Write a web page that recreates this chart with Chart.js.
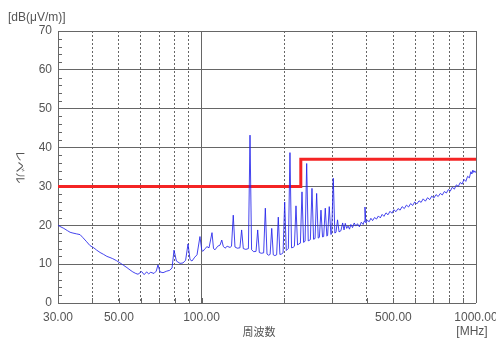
<!DOCTYPE html>
<html lang="ja">
  <head>
    <meta charset="utf-8" />
    <title>放射妨害波 測定結果</title>
    <style>
      * {
        margin: 0;
        padding: 0;
      }
      body {
        background: #fff;
      }
      .chartBox {
        width: 496px;
        height: 338px;
      }
    </style>
  </head>
  <body>
    <div class="chartBox">
      <canvas id="myChart"></canvas>
    </div>

    <script src="https://cdn.jsdelivr.net/npm/chart.js@4.4.0/dist/chart.umd.min.js"></script>

    <script>
      // data block
      const yTicks = [0, 10, 20, 30, 40, 50, 60, 70];
      const xGridFreq = [30, 40, 50, 60, 70, 80, 90, 100, 200, 300, 400, 500, 600, 700, 800, 900, 1000];
      const xSolidFreq = [30, 100, 1000];
      const xLabelFreq = [30, 50, 100, 500, 1000];

      // limit line [MHz, dB(uV/m)]
      const limitLine = [[30, 30], [230, 30], [230, 37], [1000, 37]];

      const noiseLow = [
        [30, 20.0], [30.5, 19.7], [31.5, 19.2], [32.5, 18.6], [33.2, 18.2], [34, 18.0],
        [35, 17.8], [36.1, 17.6], [37, 16.8], [38, 15.9], [39.2, 14.8], [40.5, 14.2],
        [41.5, 13.6], [42.7, 13.0], [44, 12.5], [45.2, 12.0], [46.4, 11.7], [47.5, 11.4],
        [49, 10.9], [50.5, 10.3], [52, 9.7], [53.5, 9.1], [54.9, 8.5], [56.2, 8.0],
        [57.6, 7.6], [58.7, 7.4], [60.5, 8.1], [61.8, 7.3], [63.1, 8.0], [64.2, 7.5],
        [65.3, 7.9], [67.1, 7.6], [68.4, 8.2], [69.4, 9.8], [70.6, 8.0], [72.4, 7.8],
        [74.7, 8.2], [76.5, 8.4], [78.1, 9.0], [79.4, 13.6], [81, 10.8], [83.5, 10.2],
        [85.6, 10.3], [87.5, 11.0], [89.3, 15.2], [90.8, 11.2], [92.3, 10.8], [94.5, 11.8],
        [96.3, 12.4], [98.7, 17.1], [100.2, 13.6]
      ];
      const noiseMid = [
        [101.2, 13.3], [103, 14.0], [104.7, 14.5], [106.5, 14.2], [109.2, 18.1], [110.6, 14.0],
        [112, 13.7], [114.5, 14.6], [116.8, 14.9], [118.5, 16.2], [120, 14.6], [121.8, 14.1],
        [124, 14.6], [127, 14.3], [128.6, 14.6], [130.5, 22.6], [132.4, 14.4], [135, 14.1],
        [138, 14.2], [140, 18.8], [142, 14.0], [145, 13.8], [148.2, 14.0], [150.2, 43.2],
        [152.2, 13.7], [155, 13.2], [158, 13.3], [160.2, 18.8], [162.4, 13.0], [165, 12.8],
        [168.4, 12.9], [170.8, 24.4], [173.2, 12.6], [175.5, 12.3], [177.8, 12.5], [180.2, 19.2],
        [182.6, 12.4], [185, 12.2], [187.8, 12.4], [190.4, 22.1], [193, 12.5], [195.5, 12.6],
        [198.2, 12.9], [200.9, 26.0], [203.6, 13.5], [205.5, 13.8], [207.2, 14.0], [210, 38.7],
        [212.8, 14.2], [215.5, 14.3], [218, 14.6], [220.9, 25.0], [223.8, 14.9], [226, 15.2],
        [229.2, 15.4], [232.3, 28.6], [235.4, 15.6], [238.4, 15.9], [241.6, 35.9], [244.8, 16.0],
        [246.5, 16.1], [249.2, 16.3], [252.6, 29.5], [256, 16.4], [259.2, 16.6], [262.7, 28.2],
        [266.2, 16.7], [268.8, 16.9], [272.4, 23.9], [276, 17.0], [278.6, 17.1], [282.4, 24.4],
        [286.2, 17.2], [288, 17.4], [292, 24.8], [296, 17.6], [298, 17.8], [302, 32.1],
        [306, 18.0], [309, 18.2], [313, 21.4], [317, 18.3], [322, 18.6], [326.7, 20.6],
        [330.5, 18.8]
      ];
      const noiseHigh = [
        [334, 20.5], [338, 19.2], [342, 19.8], [346, 19.0], [350, 20.2], [355, 19.4],
        [360, 20.6], [365, 19.8], [370, 20.4], [376, 19.6], [382, 20.8], [388, 20.2],
        [391, 21.0], [394, 24.7], [397, 20.6], [402, 21.3], [408, 20.9], [414, 21.8],
        [420, 21.2], [427, 22.0], [434, 21.6], [441, 22.4], [448, 21.9], [455, 22.8],
        [462, 22.3], [470, 23.2], [478, 22.7], [486, 23.6], [494, 23.1], [502, 24.0],
        [511, 23.5], [520, 24.3], [529, 23.9], [538, 24.8], [548, 24.3], [558, 25.2],
        [568, 24.7], [578, 25.6], [588, 25.1], [598, 26.0], [609, 25.5], [620, 26.3],
        [631, 25.9], [642, 26.8], [654, 26.2], [666, 27.1], [678, 26.6], [690, 27.5],
        [702, 27.0], [715, 27.9], [728, 27.4], [741, 28.2], [754, 27.8], [767, 28.7],
        [780, 28.3], [793, 29.2], [806, 28.8], [820, 29.8], [834, 29.3], [848, 30.4],
        [862, 30.0], [876, 31.0], [890, 30.6], [904, 31.8], [918, 31.3], [932, 32.6],
        [946, 32.2], [958, 33.8], [966, 33.2], [974, 34.2], [982, 33.6], [990, 34.0],
        [1000, 33.5]
      ];

      const toXY = (pairs) => pairs.map(([f, v]) => ({ x: f, y: v }));

      const tickFont = { family: '"Liberation Sans", Arial, sans-serif', size: 12 };
      const textColor = "#555";
      const gridColor = "#666";

      const data = {
        datasets: [
          {
            label: "測定値",
            data: toXY([...noiseLow, ...noiseMid, ...noiseHigh]),
            borderColor: "rgba(35, 35, 235, 0.85)",
            borderWidth: 1,
            pointRadius: 0,
            tension: 0,
            order: 0,
          },
          {
            label: "限度値",
            data: toXY(limitLine),
            borderColor: "#f42424",
            borderWidth: 3,
            pointRadius: 0,
            tension: 0,
            order: 1,
          },
        ],
      };

      // axis texts and minor ticks
      const decorations = {
        id: "decorations",
        afterDraw(chart) {
          const { ctx, chartArea: a, scales } = chart;
          const x = scales.x;
          const y = scales.y;

          ctx.save();
          ctx.strokeStyle = gridColor;
          ctx.lineWidth = 1;
          ctx.beginPath();
          for (let v = 2; v < 70; v += 2) {
            if (v % 10 === 0) continue;
            const py = Math.round(y.getPixelForValue(v)) + 0.5;
            ctx.moveTo(a.left, py);
            ctx.lineTo(a.left + 4, py);
          }
          xGridFreq.forEach((f) => {
            const px = Math.round(x.getPixelForValue(f)) + 0.5;
            ctx.moveTo(px, a.bottom);
            ctx.lineTo(px, a.bottom - 5);
          });
          ctx.stroke();

          ctx.fillStyle = textColor;
          ctx.textBaseline = "middle";
          ctx.font = '12px "Liberation Sans", Arial, sans-serif';
          ctx.textAlign = "left";
          ctx.fillText("[dB(μV/m)]", 8, a.top - 13);

          ctx.textAlign = "center";
          ctx.font = '11px "Noto Sans CJK JP", sans-serif';
          ctx.fillText("周波数", (a.left + a.right) / 2 - 8, a.bottom + 29);
          ctx.font = '12px "Liberation Sans", Arial, sans-serif';
          ctx.fillText("[MHz]", a.right - 4, a.bottom + 29);

          ctx.translate(a.left - 38, (a.top + a.bottom) / 2);
          ctx.rotate(Math.PI / 2);
          ctx.font = '11px "Noto Sans CJK JP", sans-serif';
          ctx.fillText("レベル", 0, 0);
          ctx.restore();
        },
      };

      // config block
      const config = {
        type: "line",
        data: data,
        options: {
          responsive: true,
          maintainAspectRatio: false,
          animation: false,
          layout: {
            padding: { top: 31, right: 20, bottom: 0, left: 0 },
          },
          plugins: {
            legend: { display: false },
            tooltip: { enabled: false },
          },
          scales: {
            x: {
              type: "logarithmic",
              min: 30,
              max: 1000,
              afterBuildTicks: (s) => {
                s.ticks = xGridFreq.map((v) => ({ value: v }));
              },
              afterFit: (s) => {
                s.height = 35;
                s.paddingLeft = 0;
                s.paddingRight = 0;
              },
              ticks: {
                autoSkip: false,
                maxRotation: 0,
                padding: 7,
                color: textColor,
                font: tickFont,
                callback: (v) => (xLabelFreq.includes(v) ? v.toFixed(2) : ""),
              },
              grid: { color: gridColor, drawTicks: false },
              border: { display: false, dash: [2, 2] },
            },
            x2: {
              type: "logarithmic",
              position: "top",
              min: 30,
              max: 1000,
              afterBuildTicks: (s) => {
                s.ticks = xSolidFreq.map((v) => ({ value: v }));
              },
              afterFit: (s) => {
                s.height = 0;
                s.paddingLeft = 0;
                s.paddingRight = 0;
              },
              ticks: { display: false },
              grid: { color: gridColor, drawTicks: false },
              border: { display: false },
            },
            y: {
              min: 0,
              max: 70,
              afterBuildTicks: (s) => {
                s.ticks = yTicks.map((v) => ({ value: v }));
              },
              afterFit: (s) => {
                s.width = 58;
              },
              ticks: { padding: 6, color: textColor, font: tickFont },
              grid: { color: gridColor, drawTicks: false },
              border: { color: gridColor },
            },
          },
        },
        plugins: [decorations],
      };

      // init render block
      const myChart = new Chart(document.getElementById("myChart"), config);
    </script>
  </body>
</html>
